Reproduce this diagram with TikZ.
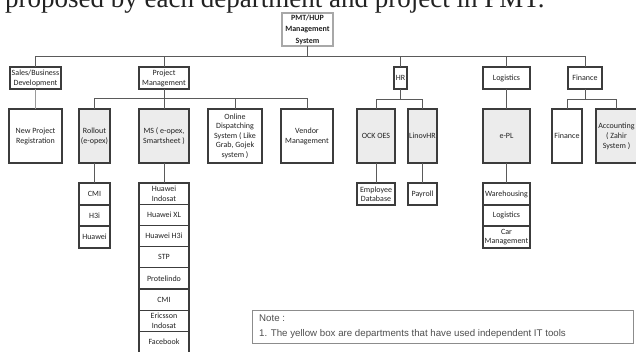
\documentclass[tikz,border=0pt]{standalone}
\usepackage{fontspec}
\setmainfont{Carlito}
\newfontfamily\titlefont{Liberation Serif}
\newfontfamily\notefont{Liberation Sans}
\definecolor{boxc}{HTML}{3C3C3C}
\definecolor{toolc}{HTML}{ECECEC}
\definecolor{connc}{HTML}{5A5A5A}
\definecolor{topc}{HTML}{A8A8A8}
\definecolor{notec}{HTML}{8C8C8C}
\definecolor{lightc}{HTML}{9A9A9A}
\definecolor{txtc}{HTML}{222222}
\begin{document}
\begin{tikzpicture}[x=1pt,y=-1pt,
  box/.style={draw=boxc, line width=1.1pt, inner sep=0pt, outer sep=0pt, align=center,
    text=txtc, font=\fontsize{8}{10}\selectfont, anchor=north west},
  tool/.style={box, fill=toolc},
  tight/.style={font=\fontsize{8}{9.5}\selectfont},
  conn/.style={draw=connc, line width=0.8pt},
]
\useasboundingbox (0,0) rectangle (636,351);
\clip (0,0) rectangle (636,351);
\fill[white] (0,0) rectangle (636,351);

% title (cut at top)
\node[anchor=base west, inner sep=0pt, text=txtc, font=\titlefont\fontsize{27}{30}\selectfont] (title) at (5,7.5) {proposed by each department and project in PMT.};

% top
\node[box, draw=topc, line width=1.2pt, minimum width=51, minimum height=33, font=\bfseries\fontsize{8}{11.5}\selectfont] (top) at (282,13) {PMT/HUP\\Management\\System};

% level 1
\node[box, minimum width=51, minimum height=22] (sales) at (10,67) {Sales/Business\\Development};
\node[box, minimum width=50, minimum height=22] (pm) at (139,67) {Project\\Management};
\node[box, minimum width=13, minimum height=22] (hr) at (394,67) {HR};
\node[box, minimum width=47, minimum height=22] (logi) at (483,67) {Logistics};
\node[box, minimum width=34, minimum height=22] (fin) at (568,67) {Finance};

% level 2
\node[box, minimum width=53, minimum height=54] (npr) at (9,109) {New Project\\Registration};
\node[tool, minimum width=31, minimum height=54] (roll) at (79,109) {Rollout\\(e-opex)};
\node[tool, minimum width=50, minimum height=54] (ms) at (139,109) {MS ( e-opex,\\Smartsheet )};
\node[box, minimum width=54, minimum height=54, tight] (onl) at (208,109) {Online\\Dispatching\\System ( Like\\Grab, Gojek\\system )};
\node[box, minimum width=52, minimum height=54] (ven) at (281,109) {Vendor\\Management};
\node[tool, minimum width=38, minimum height=54] (ock) at (357,109) {OCK OES};
\node[tool, minimum width=29, minimum height=54] (lin) at (408,109) {LinovHR};
\node[tool, minimum width=47, minimum height=54] (epl) at (483,109) {e-PL};
\node[box, minimum width=30, minimum height=54] (fin2) at (552,109) {Finance};
\node[tool, minimum width=41, minimum height=54] (acc) at (596,109) {Accounting\\( Zahir\\System )};

% level 3: rollout list
\node[box, minimum width=31, minimum height=22] (r1) at (79,183) {CMI};
\node[box, minimum width=31, minimum height=21] (r2) at (79,205) {H3i};
\node[box, minimum width=31, minimum height=22] (r3) at (79,226) {Huawei};

% level 3: MS list
\node[box, minimum width=50, minimum height=21.2, tight] (m1) at (139,183) {Huawei\\Indosat};
\node[box, minimum width=50, minimum height=21.2] (m2) at (139,204.2) {Huawei XL};
\node[box, minimum width=50, minimum height=21.2] (m3) at (139,225.4) {Huawei H3i};
\node[box, minimum width=50, minimum height=21.2] (m4) at (139,246.6) {STP};
\node[box, minimum width=50, minimum height=21.2] (m5) at (139,267.8) {Protelindo};
\node[box, minimum width=50, minimum height=21.2] (m6) at (139,289) {CMI};
\node[box, minimum width=50, minimum height=21.2, tight] (m7) at (139,310.2) {Ericsson\\Indosat};
\node[box, minimum width=50, minimum height=21.2] (m8) at (139,331.4) {Facebook};

% level 3: HR
\node[box, minimum width=38, minimum height=22, tight] (emp) at (357,183) {Employee\\Database};
\node[box, minimum width=29, minimum height=22] (pay) at (408,183) {Payroll};

% level 3: logistics list
\node[box, minimum width=47, minimum height=22] (l1) at (483,183) {Warehousing};
\node[box, minimum width=47, minimum height=21] (l2) at (483,205) {Logistics};
\node[box, minimum width=47, minimum height=22, tight] (l3) at (483,226) {Car\\Management};

% connectors
\coordinate (busA) at (306,56);
\coordinate (busB) at (0,98);
\coordinate (busC) at (0,99);
\draw[conn] (top.south) -- (top.south |- busA);
\draw[conn] (sales.north |- busA) -- (fin.north |- busA);
\foreach \n in {sales,pm,hr,logi,fin} \draw[conn] (\n.north |- busA) -- (\n.north);

\draw[conn, draw=lightc] (sales.south -| npr.north) -- (npr.north);

\draw[conn] (pm.south) -- (pm.south |- busB);
\draw[conn] (roll.north |- busB) -- (ven.north |- busB);
\foreach \n in {roll,ms,onl,ven} \draw[conn] (\n.north |- busB) -- (\n.north);

\draw[conn] (hr.south) -- (hr.south |- busC);
\draw[conn] (ock.north |- busC) -- (lin.north |- busC);
\foreach \n in {ock,lin} \draw[conn] (\n.north |- busC) -- (\n.north);

\draw[conn] (logi.south) -- (epl.north);

\draw[conn] (fin.south) -- (fin.south |- busC);
\draw[conn] (fin2.north |- busC) -- (acc.north |- busC);
\foreach \n in {fin2,acc} \draw[conn] (\n.north |- busC) -- (\n.north);

\draw[conn] (roll.south) -- (r1.north);
\draw[conn] (ms.south) -- (m1.north);
\draw[conn] (ock.south) -- (emp.north);
\draw[conn] (lin.south) -- (pay.north);
\draw[conn] (epl.south) -- (l1.north);

% note
\node[draw=notec, line width=0.8pt, inner sep=0pt, outer sep=0pt, anchor=north west, minimum width=381, minimum height=33] (note) at (252,310) {};
\node[anchor=base west, inner sep=0pt, text=txtc!80, font=\notefont\fontsize{9.7}{11}\selectfont] (note1) at (259,321) {Note :};
\node[anchor=base west, inner sep=0pt, text=txtc!80, font=\notefont\fontsize{9.7}{11}\selectfont] (note2) at (259,336) {1. The yellow box are departments that have used independent IT tools};
\end{tikzpicture}
\end{document}
